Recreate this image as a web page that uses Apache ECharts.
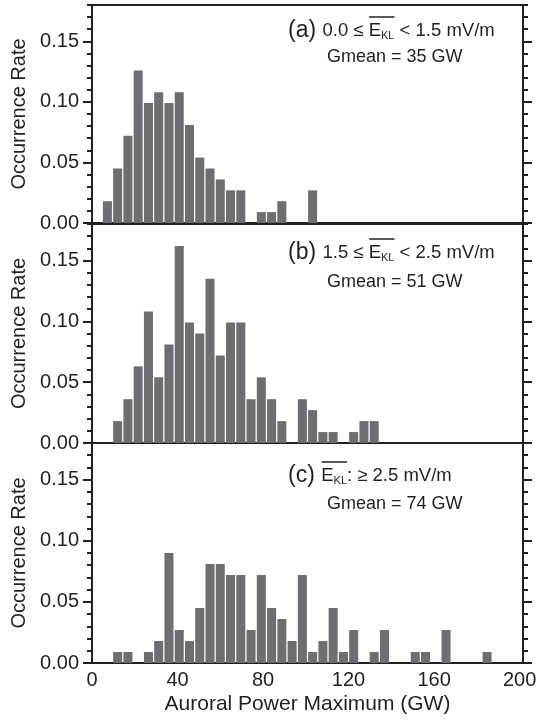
<!DOCTYPE html>
<html>
<head>
<meta charset="utf-8">
<script src="https://cdn.jsdelivr.net/npm/echarts@6/dist/echarts.min.js"></script>
<style>
  html, body { margin: 0; padding: 0; background: #ffffff; }
  #chart { width: 538px; height: 724px; }
</style>
</head>
<body>
<div id="chart"></div>
<script>
// Histogram bins (GW): centres of 42 bins, 4.8 GW wide, from 0 to 201.6 GW
const binCenters = [
  2.4, 7.2, 12.0, 16.8, 21.6, 26.4, 31.2, 36.0, 40.8, 45.6,
  50.4, 55.2, 60.0, 64.8, 69.6, 74.4, 79.2, 84.0, 88.8, 93.6,
  98.4, 103.2, 108.0, 112.8, 117.6, 122.4, 127.2, 132.0, 136.8, 141.6,
  146.4, 151.2, 156.0, 160.8, 165.6, 170.4, 175.2, 180.0, 184.8, 189.6,
  194.4, 199.2
];
const binRangeMax = 201.6;

// Occurrence rate per bin, 0.0 <= E_KL < 1.5 mV/m
const rateLow = [
  0, 0.018, 0.045, 0.072, 0.126, 0.099, 0.108, 0.099, 0.108, 0.081,
  0.054, 0.045, 0.036, 0.027, 0.027, 0, 0.009, 0.009, 0.018, 0,
  0, 0.027, 0, 0, 0, 0, 0, 0, 0, 0,
  0, 0, 0, 0, 0, 0, 0, 0, 0, 0,
  0, 0
];

// Occurrence rate per bin, 1.5 <= E_KL < 2.5 mV/m
const rateMid = [
  0, 0, 0.018, 0.036, 0.063, 0.108, 0.054, 0.081, 0.162, 0.099,
  0.090, 0.135, 0.072, 0.099, 0.099, 0.036, 0.054, 0.036, 0.018, 0,
  0.036, 0.027, 0.009, 0.009, 0, 0.009, 0.018, 0.018, 0, 0,
  0, 0, 0, 0, 0, 0, 0, 0, 0, 0,
  0, 0
];

// Occurrence rate per bin, E_KL >= 2.5 mV/m
const rateHigh = [
  0, 0, 0.009, 0.009, 0, 0.009, 0.018, 0.090, 0.027, 0.018,
  0.045, 0.081, 0.081, 0.072, 0.072, 0.027, 0.072, 0.045, 0.036, 0.018,
  0.072, 0.009, 0.018, 0.045, 0.009, 0.027, 0, 0.009, 0.027, 0,
  0, 0.009, 0.009, 0, 0.027, 0, 0, 0, 0.009, 0,
  0, 0
];

const yTickValues = [0, 0.05, 0.10, 0.15];
const xTickValues = [0, 40, 80, 120, 160, 200];
const panelTags = ['(a)', '(b)', '(c)'];
const gmeanLabels = ['Gmean = 35 GW', 'Gmean = 51 GW', 'Gmean = 74 GW'];

const ink = '#231f20';
const barColor = '#6d6e71';
const fontFamily = '"Liberation Sans", Arial, Helvetica, sans-serif';

const panels = [
  { top: 5, height: 218, data: rateLow },
  { top: 224, height: 219, data: rateMid },
  { top: 443, height: 220, data: rateHigh }
];

const gridLeft = 92;
const gridWidth = 431;

const grid = [];
const xAxis = [];
const yAxis = [];
const series = [];

panels.forEach((p, i) => {
  grid.push({ left: gridLeft, top: p.top, width: gridWidth, height: p.height,
              outerBoundsMode: 'none', containLabel: false });

  // bin axis: bars plus the small inward ticks at each bin centre
  const binAxisIndex = xAxis.length;
  xAxis.push({
    type: 'category', gridIndex: i, position: 'bottom', data: binCenters,
    boundaryGap: true,
    axisLine: { onZero: false, lineStyle: { color: ink, width: 2 } },
    axisTick: { inside: true, alignWithLabel: true, interval: 0, length: 3,
                lineStyle: { color: ink, width: 2 } },
    axisLabel: { show: false },
    splitLine: { show: false }
  });
  // top frame line
  xAxis.push({
    type: 'value', gridIndex: i, position: 'top', min: 0, max: binRangeMax,
    axisLine: { show: true, onZero: false, lineStyle: { color: ink, width: 2 } },
    axisTick: { show: false }, axisLabel: { show: false }, splitLine: { show: false }
  });
  if (i === panels.length - 1) {
    // numeric power scale under the last panel
    xAxis.push({
      type: 'value', gridIndex: i, position: 'bottom', min: 0, max: binRangeMax, interval: 40,
      axisLine: { show: false, onZero: false }, axisTick: { show: false },
      axisLabel: { customValues: xTickValues, color: ink, fontSize: 20, fontFamily, margin: 7 },
      splitLine: { show: false },
      name: 'Auroral Power Maximum (GW)', nameLocation: 'middle', nameGap: 31,
      nameTextStyle: { color: ink, fontSize: 21, fontFamily }
    });
  }

  const mainYIndex = yAxis.length;
  // left axis: labelled major ticks
  yAxis.push({
    type: 'value', gridIndex: i, position: 'left', min: 0, max: 0.18, interval: 0.05,
    axisLine: { show: true, onZero: false, lineStyle: { color: ink, width: 2 } },
    axisTick: { show: true, customValues: yTickValues, length: 9,
                lineStyle: { color: ink, width: 2 } },
    axisLabel: { customValues: yTickValues, formatter: v => v.toFixed(2),
                 color: ink, fontSize: 20, fontFamily, margin: 13 },
    splitLine: { show: false },
    name: 'Occurrence Rate', nameLocation: 'middle', nameGap: 62,
    nameTextStyle: { color: ink, fontSize: 20, fontFamily }
  });
  // left axis: 0.01 minor ticks
  yAxis.push({
    type: 'value', gridIndex: i, position: 'left', min: 0, max: 0.18, interval: 0.01,
    axisLine: { show: false, onZero: false },
    axisTick: { show: true, length: 5, lineStyle: { color: ink, width: 2 } },
    axisLabel: { show: false }, splitLine: { show: false }
  });
  // right frame with mirrored ticks
  yAxis.push({
    type: 'value', gridIndex: i, position: 'right', min: 0, max: 0.18, interval: 0.05,
    axisLine: { show: true, onZero: false, lineStyle: { color: ink, width: 2 } },
    axisTick: { show: true, customValues: yTickValues, length: 9,
                lineStyle: { color: ink, width: 2 } },
    axisLabel: { show: false }, splitLine: { show: false }
  });
  yAxis.push({
    type: 'value', gridIndex: i, position: 'right', min: 0, max: 0.18, interval: 0.01,
    axisLine: { show: false, onZero: false },
    axisTick: { show: true, length: 5, lineStyle: { color: ink, width: 2 } },
    axisLabel: { show: false }, splitLine: { show: false }
  });

  series.push({
    type: 'bar', xAxisIndex: binAxisIndex, yAxisIndex: mainYIndex,
    data: p.data, barCategoryGap: '12%',
    itemStyle: { color: barColor },
    silent: true, animation: false
  });
});

// Annotation text: panel tag, E_KL range with overline/subscript, geometric mean
const measureCtx = document.createElement('canvas').getContext('2d');
function textWidth(str, size) {
  measureCtx.font = size + 'px ' + fontFamily;
  return measureCtx.measureText(str).width;
}

function captionLine(pieces, x, y) {
  const els = [];
  let cx = x;
  let overStart = null, overEnd = null;
  pieces.forEach(pc => {
    els.push({
      type: 'text', x: cx, y: y + (pc.dy || 0),
      style: { text: pc.text, fill: ink, fontSize: pc.size, fontFamily,
               verticalAlign: 'middle', align: 'left' }
    });
    const w = textWidth(pc.text, pc.size);
    if (pc.over) {
      if (overStart === null) overStart = cx;
      overEnd = cx + w;
    }
    cx += w;
  });
  if (overStart !== null) {
    els.push({
      type: 'line',
      shape: { x1: overStart + 0.5, y1: y - 14, x2: overEnd, y2: y - 14 },
      style: { stroke: ink, lineWidth: 1.5 }
    });
  }
  return els;
}

const captionRows = [
  { y1: 31, y2: 57, pieces: [
      { text: panelTags[0] + ' ', size: 23 },
      { text: '0.0 \u2264 ', size: 18.5 },
      { text: 'E', size: 18.5, over: true },
      { text: 'KL', size: 11, dy: 5, over: true },
      { text: ' < 1.5 mV/m', size: 18.5 } ] },
  { y1: 253, y2: 282, pieces: [
      { text: panelTags[1] + ' ', size: 23 },
      { text: '1.5 \u2264 ', size: 18.5 },
      { text: 'E', size: 18.5, over: true },
      { text: 'KL', size: 11, dy: 5, over: true },
      { text: ' < 2.5 mV/m', size: 18.5 } ] },
  { y1: 476, y2: 504, pieces: [
      { text: panelTags[2] + ' ', size: 23 },
      { text: 'E', size: 18.5, over: true },
      { text: 'KL', size: 11, dy: 5, over: true },
      { text: ': \u2265 2.5 mV/m', size: 18.5 } ] }
];

const graphic = [];
captionRows.forEach((row, i) => {
  captionLine(row.pieces, 288, row.y1).forEach(e => graphic.push(e));
  graphic.push({
    type: 'text', x: 327, y: row.y2,
    style: { text: gmeanLabels[i], fill: ink, fontSize: 18, fontFamily,
             verticalAlign: 'middle', align: 'left' }
  });
});

const chart = echarts.init(document.getElementById('chart'), null, { renderer: 'canvas' });
chart.setOption({
  backgroundColor: '#ffffff',
  animation: false,
  grid, xAxis, yAxis, series, graphic
});
</script>
</body>
</html>
